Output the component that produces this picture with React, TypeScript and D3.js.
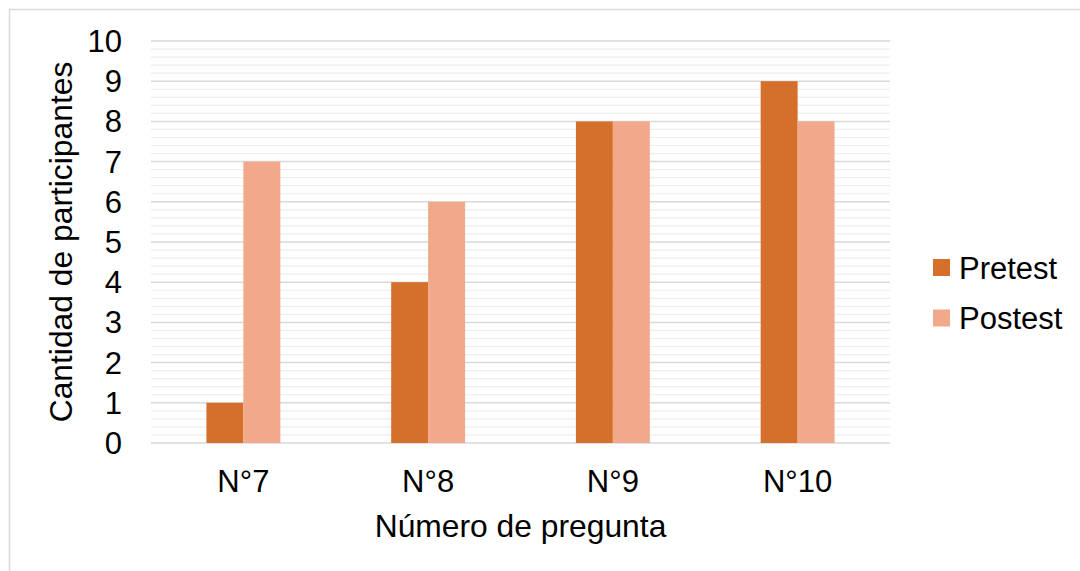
import React from "react";
import * as d3 from "d3";

const categories = ["N°7", "N°8", "N°9", "N°10"];
const seriesNames = ["Pretest", "Postest"];
const pretest = [1, 4, 8, 9];
const postest = [7, 6, 8, 8];
const yTicks = [0, 1, 2, 3, 4, 5, 6, 7, 8, 9, 10];
const colors = ["#D46F2C", "#F2A98B"];

const W = 1080;
const H = 571;
const FONT = "'Liberation Sans', Arial, sans-serif";

export default function App() {
  const x0 = d3.scaleBand<string>().domain(categories).range([151, 890]).paddingInner(0).paddingOuter(0);
  const x1 = d3.scaleBand<string>().domain(seriesNames).range([0, x0.step()]).paddingInner(0).paddingOuter(1.5);
  const y = d3.scaleLinear().domain([0, 10]).range([443, 41]);
  const minorTicks = d3.range(0, 10.0001, 0.2).filter((v) => Math.abs(v - Math.round(v)) > 1e-6);
  const values = [pretest, postest];

  return (
    <svg width={W} height={H} style={{ position: "absolute", left: 0, top: 0 }} fontFamily={FONT}>
      <rect x={0} y={0} width={W} height={H} fill="#fff" />
      <rect x={9.5} y={9.5} width={W + 10} height={H + 10} fill="none" stroke="#d9d9d9" strokeWidth={1.5} />
      {minorTicks.map((v) => (
        <line key={"m" + v} x1={151} x2={890} y1={y(v)} y2={y(v)} stroke="#eeeeee" strokeWidth={1.2} />
      ))}
      {yTicks.map((v) => (
        <line key={"g" + v} x1={151} x2={890} y1={y(v)} y2={y(v)} stroke="#d9d9d9" strokeWidth={1.5} />
      ))}
      {seriesNames.map((s, si) =>
        categories.map((c, ci) => (
          <rect
            key={s + c}
            x={(x0(c) as number) + (x1(s) as number)}
            y={y(values[si][ci])}
            width={x1.bandwidth()}
            height={y(0) - y(values[si][ci])}
            fill={colors[si]}
          />
        ))
      )}
      {yTicks.map((v) => (
        <text key={"t" + v} x={122} y={y(v) + 11} textAnchor="end" fontSize={31} fill="#000">
          {v}
        </text>
      ))}
      {categories.map((c) => (
        <text key={"c" + c} x={(x0(c) as number) + x0.bandwidth() / 2} y={492} textAnchor="middle" fontSize={31} fill="#000">
          {c}
        </text>
      ))}
      <text x={520.5} y={537} textAnchor="middle" fontSize={31.8} fill="#000">
        Número de pregunta
      </text>
      <text transform={`translate(72,242) rotate(-90)`} textAnchor="middle" fontSize={31.8} fill="#000">
        Cantidad de participantes
      </text>
      {seriesNames.map((s, i) => (
        <g key={"l" + s} transform={`translate(0, ${267.5 + i * 50.5})`}>
          <rect x={933} y={-8.5} width={17} height={17} fill={colors[i]} />
          <text x={959} y={11} fontSize={31} fill="#000">
            {s}
          </text>
        </g>
      ))}
    </svg>
  );
}
